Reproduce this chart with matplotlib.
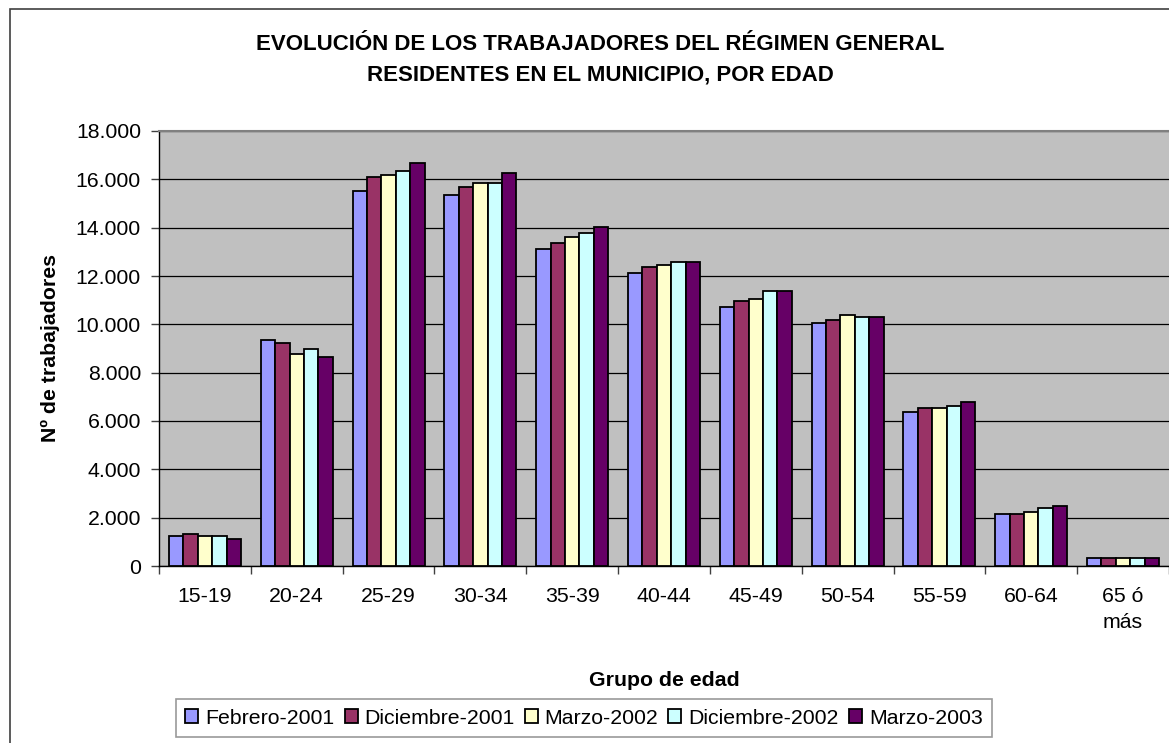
"""Evolución de los trabajadores del Régimen General residentes en el municipio, por edad."""

import matplotlib as mpl
import matplotlib.pyplot as plt
import numpy as np
from matplotlib.patches import Rectangle
from matplotlib.ticker import FuncFormatter

GROUPS = ["15-19", "20-24", "25-29", "30-34", "35-39", "40-44",
          "45-49", "50-54", "55-59", "60-64", "65 ó\nmás"]
SERIES_NAMES = ["Febrero-2001", "Diciembre-2001", "Marzo-2002",
                "Diciembre-2002", "Marzo-2003"]

FEB_2001 = [1250, 9370, 15510, 15350, 13100, 12110, 10700, 10040, 6390, 2160, 330]
DIC_2001 = [1330, 9210, 16090, 15680, 13360, 12360, 10950, 10200, 6550, 2160, 330]
MAR_2002 = [1250, 8780, 16170, 15840, 13600, 12440, 11030, 10370, 6550, 2240, 330]
DIC_2002 = [1250, 8960, 16340, 15840, 13770, 12580, 11360, 10290, 6640, 2410, 330]
MAR_2003 = [1100, 8630, 16670, 16260, 14020, 12580, 11360, 10290, 6800, 2490, 330]

# classic spreadsheet palette
COLORS = ["#9999ff", "#993366", "#ffffcc", "#ccffff", "#660066"]
PLOT_BG = "#c0c0c0"
FS = 15.3

mpl.rcParams.update({
    "font.family": "Liberation Sans",
    "font.size": FS,
    "text.color": "black",
})

W, H = 1169, 743
fig = plt.figure(figsize=(W / 100, H / 100), dpi=100)
fig.patch.set_facecolor("white")

# outer chart border (right/bottom run off the picture)
fig.patches.append(Rectangle((10 / W, -0.05), 1.1, 1 - 9 / H + 0.05,
                             transform=fig.transFigure, fill=False,
                             edgecolor="#404040", linewidth=1.2))

left, right, top, bottom = 159, 1169, 131, 566
ax = fig.add_axes([left / W, 1 - bottom / H, (right - left) / W, (bottom - top) / H])
ax.set_facecolor(PLOT_BG)

data = [FEB_2001, DIC_2001, MAR_2002, DIC_2002, MAR_2003]
x = np.arange(len(GROUPS))
bw = 0.157
for i, (vals, name, col) in enumerate(zip(data, SERIES_NAMES, COLORS)):
    ax.bar(x + (i - 2) * bw, vals, width=bw, color=col, edgecolor="black",
           linewidth=1.3, label=name, zorder=3)

ax.set_xlim(-0.5, len(GROUPS) - 0.5)
ax.set_ylim(0, 18000)
ax.set_yticks(np.arange(0, 18001, 2000))
ax.yaxis.set_major_formatter(FuncFormatter(lambda v, _: f"{int(v):,}".replace(",", ".")))
ax.grid(axis="y", color="black", linewidth=0.9, zorder=1)

ax.set_xticks(x, GROUPS)
for lab in ax.get_xticklabels():
    lab.set_linespacing(1.45)
ax.set_xticks(np.arange(-0.5, len(GROUPS)), minor=True)
ax.tick_params(axis="x", which="major", length=0, pad=15, labelsize=FS)
ax.tick_params(axis="x", which="minor", length=6, width=1, color="#404040")
ax.tick_params(axis="y", length=6, width=1, color="#404040", pad=7, labelsize=FS)

for side in ("left", "bottom"):
    ax.spines[side].set_color("black")
    ax.spines[side].set_linewidth(1)
ax.spines["top"].set_color("#808080")
ax.spines["top"].set_linewidth(1.5)
ax.spines["right"].set_visible(False)

fig.text(600 / W, 1 - 45 / H, "EVOLUCIÓN DE LOS TRABAJADORES DEL RÉGIMEN GENERAL",
         ha="center", va="center", fontsize=16, fontweight="bold")
fig.text(600 / W, 1 - 75 / H, "RESIDENTES EN EL MUNICIPIO, POR EDAD",
         ha="center", va="center", fontsize=16, fontweight="bold")
fig.text(664 / W, 1 - 680 / H, "Grupo de edad", ha="center", va="center",
         fontsize=FS, fontweight="bold")
fig.text(50 / W, 1 - 348 / H, "Nº de trabajadores", ha="center", va="center",
         rotation=90, fontsize=FS, fontweight="bold")

leg = fig.legend(loc="center", bbox_to_anchor=(584 / W, 1 - 718 / H), ncol=5,
                 frameon=True, fancybox=False, fontsize=FS, handlelength=0.61,
                 handleheight=0.61, handletextpad=0.33, columnspacing=0.47,
                 borderpad=0.45, borderaxespad=0)
leg.get_frame().set_edgecolor("#808080")
leg.get_frame().set_linewidth(1.2)

fig.savefig("out.png", dpi=100, facecolor="white")
